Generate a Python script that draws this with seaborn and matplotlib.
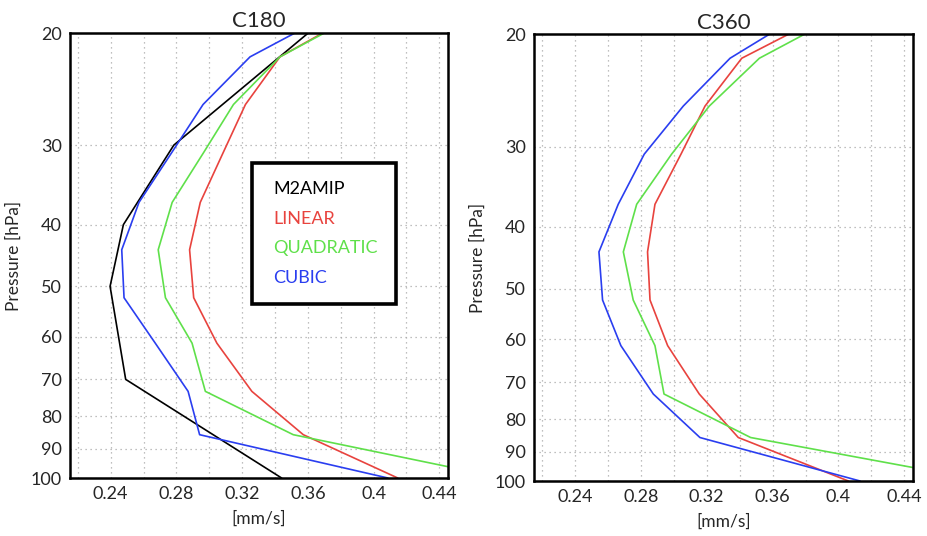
import numpy as np
import pandas as pd
import matplotlib
matplotlib.use("Agg")
import matplotlib.pyplot as plt
from matplotlib.ticker import FixedLocator, NullFormatter
from matplotlib.lines import Line2D
import seaborn as sns

# model levels [hPa]
levels = [20, 21.8, 25.9, 30.8, 36.9, 43.8, 52.1, 61.4, 73.1, 85.5, 100]
# M2AMIP reanalysis pressure levels [hPa]
obs_levels = [20, 30, 40, 50, 70, 100]

c180_linear = [0.369, 0.343, 0.322, 0.3085, 0.2945, 0.288, 0.2905, 0.3046, 0.3259, 0.3572, 0.4147]
c180_quadratic = [0.370, 0.343, 0.3147, 0.2966, 0.2774, 0.2689, 0.2733, 0.2895, 0.2976, 0.3511, 0.4786]
c180_cubic = [0.3521, 0.3248, 0.2962, 0.2772, 0.2572, 0.2467, 0.2481, 0.2671, 0.2871, 0.2941, 0.4087]
c180_m2amip = [0.3602, 0.2784, 0.2477, 0.2396, 0.2491, 0.344]

c360_linear = [0.3696, 0.3413, 0.319, 0.3044, 0.2886, 0.2841, 0.2856, 0.2963, 0.3155, 0.3392, 0.406]
c360_quadratic = [0.3793, 0.352, 0.3216, 0.2987, 0.2775, 0.2694, 0.2754, 0.2886, 0.2941, 0.3467, 0.4895]
c360_cubic = [0.358, 0.3342, 0.3058, 0.2821, 0.2663, 0.2546, 0.2568, 0.2679, 0.2876, 0.3159, 0.4131]

colors = {"M2AMIP": "black", "LINEAR": "#e8433e", "QUADRATIC": "#5fe04a", "CUBIC": "#2a3ef0"}

sns.set_style("white")
plt.rcParams["font.family"] = ["Lato", "DejaVu Sans"]


def make_df(series):
    rows = []
    for name, lev, vals in series:
        for p, v in zip(lev, vals):
            rows.append({"scheme": name, "pressure": p, "value": v})
    return pd.DataFrame(rows)


def style_axis(ax, title):
    ax.set_yscale("log")
    ax.set_ylim(100, 20)
    ax.set_xlim(0.2152, 0.4453)
    ax.yaxis.set_major_locator(FixedLocator([20, 30, 40, 50, 60, 70, 80, 90, 100]))
    ax.yaxis.set_minor_locator(FixedLocator([]))
    ax.yaxis.set_major_formatter(matplotlib.ticker.FormatStrFormatter("%d"))
    ax.yaxis.set_minor_formatter(NullFormatter())
    ax.xaxis.set_major_locator(FixedLocator([0.24, 0.28, 0.32, 0.36, 0.40, 0.44]))
    ax.xaxis.set_major_formatter(matplotlib.ticker.FuncFormatter(lambda v, p: f"{v:.2f}".rstrip("0")))
    ax.xaxis.set_minor_locator(FixedLocator([0.22, 0.26, 0.30, 0.34, 0.38, 0.42]))
    ax.grid(True, which="both", axis="x", linestyle=(0, (1, 3)), color="#aaaaaa", linewidth=0.9)
    ax.grid(True, which="major", axis="y", linestyle=(0, (1, 3)), color="#aaaaaa", linewidth=0.9)
    ax.tick_params(axis="both", which="both", length=0, labelsize=13, pad=6)
    for s in ax.spines.values():
        s.set_color("black")
        s.set_linewidth(1.8)
    ax.set_title(title, fontsize=16, pad=4)
    ax.set_xlabel("[mm/s]", fontsize=12.5, labelpad=6)
    ax.set_ylabel("Pressure [hPa]", fontsize=12.5, labelpad=6)


fig = plt.figure(figsize=(9.27, 5.36), dpi=100)
ax1 = fig.add_axes([0.0755, 0.1082, 0.4078, 0.8302])
ax2 = fig.add_axes([0.5761, 0.1026, 0.4089, 0.8334])

df180 = make_df([
    ("M2AMIP", obs_levels, c180_m2amip),
    ("LINEAR", levels, c180_linear),
    ("QUADRATIC", levels, c180_quadratic),
    ("CUBIC", levels, c180_cubic),
])
df360 = make_df([
    ("LINEAR", levels, c360_linear),
    ("QUADRATIC", levels, c360_quadratic),
    ("CUBIC", levels, c360_cubic),
])

sns.lineplot(data=df180, x="value", y="pressure", hue="scheme", palette=colors,
             orient="y", estimator=None, linewidth=1.2, legend=False, ax=ax1)
sns.lineplot(data=df360, x="value", y="pressure", hue="scheme", palette=colors,
             orient="y", estimator=None, linewidth=1.2, legend=False, ax=ax2)

style_axis(ax1, "C180")
style_axis(ax2, "C360")

handles = [Line2D([], [], color="none") for _ in colors]
leg = ax1.legend(handles, list(colors.keys()), labelcolor=list(colors.values()),
                 loc="upper left", bbox_to_anchor=(0.481, 0.708), fontsize=13,
                 handlelength=0.2, handletextpad=0.0, labelspacing=0.75,
                 borderpad=1.0, borderaxespad=0, fancybox=False, framealpha=1)
leg.get_frame().set_edgecolor("black")
leg.get_frame().set_linewidth(2.6)

fig.savefig("out.png", dpi=100)
